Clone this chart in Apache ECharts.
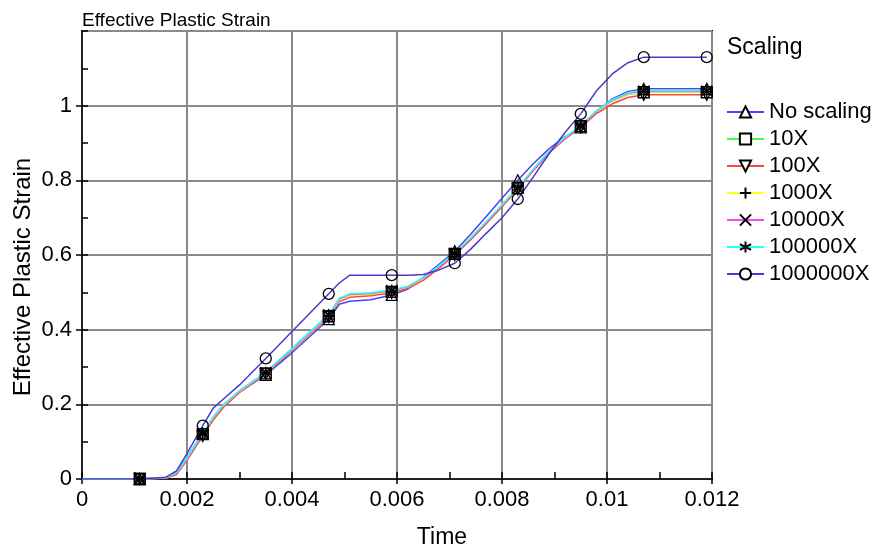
<!DOCTYPE html>
<html>
<head>
<meta charset="utf-8">
<script src="https://cdn.jsdelivr.net/npm/echarts@6/dist/echarts.min.js"></script>
<style>
html,body{margin:0;padding:0;background:#fff;}
#chart{width:880px;height:553px;}
</style>
</head>
<body>
<div id="chart"></div>
<script>
// ---- data ----
var times = [0, 0.0011, 0.0016, 0.0018, 0.002, 0.0023, 0.0025, 0.0027, 0.003, 0.0035, 0.004, 0.0047, 0.0049, 0.0051, 0.0055, 0.0059, 0.0062, 0.0065, 0.0068, 0.0071, 0.0074, 0.0077, 0.008, 0.0083, 0.0086, 0.0089, 0.0092, 0.0095, 0.0098, 0.0101, 0.0104, 0.0107, 0.011, 0.0119];
var markerTimes = [0.0011, 0.0023, 0.0035, 0.0047, 0.0059, 0.0071, 0.0083, 0.0095, 0.0107, 0.0119];

var seriesNames = ['No scaling', '10X', '100X', '1000X', '10000X', '100000X', '1000000X'];

var noScaling = [0, 0, 0.004, 0.018, 0.058, 0.122, 0.165, 0.198, 0.233, 0.279, 0.338, 0.428, 0.468, 0.476, 0.48, 0.493, 0.508, 0.54, 0.575, 0.61, 0.655, 0.703, 0.752, 0.8, 0.845, 0.885, 0.917, 0.942, 0.985, 1.018, 1.038, 1.045, 1.045, 1.045];
var x10 = [0, 0, 0.003, 0.015, 0.054, 0.12, 0.163, 0.197, 0.234, 0.283, 0.347, 0.436, 0.477, 0.489, 0.493, 0.501, 0.512, 0.535, 0.568, 0.603, 0.643, 0.688, 0.733, 0.78, 0.83, 0.878, 0.914, 0.945, 0.984, 1.012, 1.03, 1.036, 1.036, 1.036];
var x100 = [0, 0, 0.002, 0.012, 0.05, 0.115, 0.158, 0.193, 0.232, 0.281, 0.345, 0.434, 0.475, 0.487, 0.491, 0.499, 0.51, 0.532, 0.565, 0.6, 0.64, 0.684, 0.729, 0.776, 0.826, 0.874, 0.911, 0.942, 0.979, 1.005, 1.022, 1.029, 1.029, 1.029];
var x1000 = [0, 0, 0.003, 0.016, 0.055, 0.121, 0.164, 0.198, 0.235, 0.284, 0.348, 0.438, 0.479, 0.491, 0.495, 0.503, 0.514, 0.537, 0.57, 0.605, 0.646, 0.69, 0.735, 0.782, 0.832, 0.879, 0.915, 0.946, 0.985, 1.013, 1.031, 1.037, 1.037, 1.037];
var x10000 = [0, 0, 0.003, 0.016, 0.056, 0.121, 0.165, 0.199, 0.236, 0.285, 0.349, 0.44, 0.482, 0.494, 0.497, 0.505, 0.515, 0.538, 0.57, 0.604, 0.644, 0.688, 0.733, 0.779, 0.829, 0.877, 0.914, 0.945, 0.986, 1.014, 1.033, 1.039, 1.039, 1.039];
var x100000 = [0, 0, 0.004, 0.017, 0.057, 0.122, 0.166, 0.2, 0.237, 0.286, 0.35, 0.441, 0.484, 0.496, 0.499, 0.506, 0.516, 0.539, 0.571, 0.605, 0.645, 0.689, 0.734, 0.78, 0.83, 0.878, 0.915, 0.946, 0.987, 1.016, 1.035, 1.041, 1.041, 1.041];
var x1000000 = [0, 0, 0.005, 0.022, 0.068, 0.143, 0.19, 0.215, 0.252, 0.323, 0.395, 0.496, 0.525, 0.546, 0.546, 0.546, 0.546, 0.548, 0.56, 0.578, 0.615, 0.658, 0.7, 0.75, 0.81, 0.872, 0.928, 0.978, 1.04, 1.085, 1.115, 1.13, 1.13, 1.13];

var xTickValues = [0, 0.002, 0.004, 0.006, 0.008, 0.01, 0.012];
var yTickValues = [0, 0.2, 0.4, 0.6, 0.8, 1];

// ---- styles ----
var allValues = [noScaling, x10, x100, x1000, x10000, x100000, x1000000];
var lineColors = ['#4444ff', '#44ff44', '#ff4444', '#ffff22', '#ff44ff', '#22ffff', '#5236cc'];
var symbols = [
  'triangle',
  'rect',
  'path://M0,0 L10,0 L5,9 Z',
  'path://M5,0 L5,10 M0,5 L10,5',
  'path://M0,0 L10,10 M10,0 L0,10',
  'path://M5,0 L5,10 M0.7,2.5 L9.3,7.5 M9.3,2.5 L0.7,7.5',
  'circle'
];
var FONT = 'Liberation Sans, Arial, sans-serif';

function buildData(vals) {
  return times.map(function (t, i) {
    var isMarker = markerTimes.indexOf(t) >= 0;
    return isMarker ? { value: [t, vals[i]] } : { value: [t, vals[i]], symbol: 'none' };
  });
}

var series = seriesNames.map(function (name, k) {
  return {
    name: name,
    type: 'line',
    xAxisIndex: 0,
    yAxisIndex: 0,
    data: buildData(allValues[k]),
    symbol: symbols[k],
    symbolSize: 11,
    showAllSymbol: true,
    smooth: false,
    lineStyle: { color: lineColors[k], width: 1.5 },
    itemStyle: { color: 'rgba(255,255,255,0)', borderColor: '#000', borderWidth: 1.3 },
    emphasis: { disabled: true },
    z: 3
  };
});

var chart = echarts.init(document.getElementById('chart'), null, { renderer: 'canvas' });
chart.setOption({
  animation: false,
  backgroundColor: '#fff',
  textStyle: { fontFamily: FONT },
  title: {
    text: 'Effective Plastic Strain',
    left: 77,
    top: 6,
    textStyle: { fontSize: 19, fontWeight: 'normal', color: '#000', fontFamily: FONT }
  },
  grid: {
    left: 82, right: 168, top: 31, bottom: 74,
    show: true, borderColor: '#000', borderWidth: 2,
    containLabel: false, outerBoundsMode: 'none'
  },
  legend: {
    orient: 'vertical',
    left: 721,
    top: 94,
    itemWidth: 37,
    itemHeight: 14,
    itemGap: 1,
    selectedMode: false,
    data: seriesNames,
    itemStyle: { color: '#fff' },
    textStyle: { fontSize: 22, color: '#000', fontFamily: FONT, lineHeight: 10, padding: [0, 0, 16, 0] }
  },
  xAxis: [{
    type: 'value',
    min: 0, max: 0.012, interval: 0.002,
    axisLine: { show: true, onZero: false, lineStyle: { color: '#000', width: 1.5 } },
    axisTick: { show: true, length: 5, lineStyle: { color: '#000', width: 1.5 } },
    splitLine: { show: true, lineStyle: { color: '#8a8a8a', width: 2 } },
    axisLabel: { fontSize: 22, color: '#000', margin: 10, fontFamily: FONT,
      formatter: function (v) { return String(+v.toFixed(4)); } }
  }, {
    type: 'value', position: 'bottom',
    min: 0, max: 0.012, interval: 0.001,
    axisLine: { show: false },
    axisTick: { show: true, inside: true, length: 7, lineStyle: { color: '#000', width: 1.5 } },
    splitLine: { show: false },
    axisLabel: { show: false }
  }],
  yAxis: [{
    type: 'value',
    min: 0, max: 1.2, interval: 0.2,
    axisLine: { show: true, onZero: false, lineStyle: { color: '#000', width: 1.5 } },
    axisTick: { show: true, length: 6, lineStyle: { color: '#000', width: 1.5 } },
    splitLine: { show: true, lineStyle: { color: '#8a8a8a', width: 2 } },
    axisLabel: { fontSize: 22, color: '#000', margin: 10, showMaxLabel: false, fontFamily: FONT,
      formatter: function (v) { return String(+v.toFixed(2)); } }
  }, {
    type: 'value', position: 'left',
    min: 0, max: 1.2, interval: 0.1,
    axisLine: { show: false },
    axisTick: { show: true, inside: true, length: 6, lineStyle: { color: '#000', width: 1.5 } },
    splitLine: { show: false },
    axisLabel: { show: false }
  }],
  graphic: [{
    type: 'text',
    x: 23, y: 277,
    rotation: Math.PI / 2,
    style: { text: 'Effective Plastic Strain', fontSize: 24, fill: '#000', fontFamily: FONT, align: 'center', verticalAlign: 'middle' }
  }, {
    type: 'text',
    x: 442, y: 538,
    style: { text: 'Time', fontSize: 23, fill: '#000', fontFamily: FONT, align: 'center', verticalAlign: 'middle' }
  }, {
    type: 'text',
    x: 727, y: 48,
    style: { text: 'Scaling', fontSize: 23, fill: '#000', fontFamily: FONT, align: 'left', verticalAlign: 'middle' }
  }],
  series: series
});
</script>
</body>
</html>
